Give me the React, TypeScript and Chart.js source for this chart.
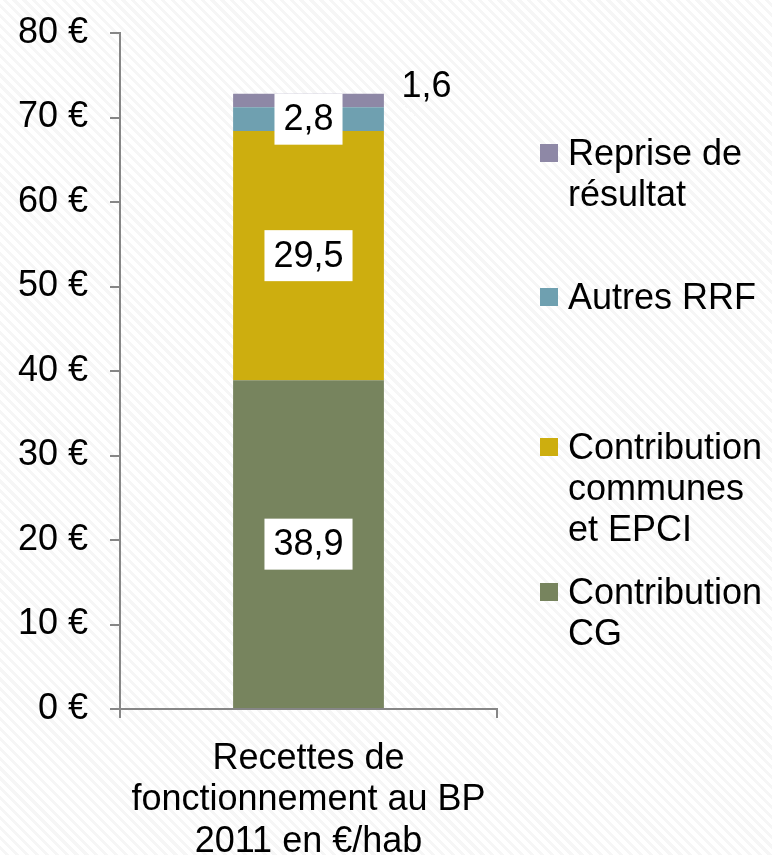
import React, { useEffect, useRef } from "react";
import { Chart, registerables } from "chart.js";

Chart.register(...registerables);

const categories: string[][] = [["Recettes de", "fonctionnement au BP", "2011 en €/hab"]];
const seriesNames: string[][] = [
  ["Contribution", "CG"],
  ["Contribution", "communes", "et EPCI"],
  ["Autres RRF"],
  ["Reprise de", "résultat"],
];
const seriesValues: number[] = [38.9, 29.5, 2.8, 1.6];
const seriesColors: string[] = ["#77845E", "#CDAE0F", "#6FA0B0", "#8E88A6"];
const yTicks: number[] = [0, 10, 20, 30, 40, 50, 60, 70, 80];

const FONT = "'Liberation Sans', Arial, sans-serif";
const FS = 36;

const fmt = (v: number) => v.toFixed(1).replace(".", ",");

const labelPlugin = {
  id: "labelsAndLegend",
  afterDatasetsDraw(chart: any) {
    const ctx = chart.ctx;
    ctx.save();
    ctx.font = `${FS}px ${FONT}`;
    ctx.textBaseline = "middle";
    ctx.textAlign = "center";
    chart.data.datasets.forEach((ds: any, i: number) => {
      const meta = chart.getDatasetMeta(i);
      const bar = meta.data[0];
      if (!bar) return;
      const v = ds.data[0];
      const txt = fmt(v);
      const cy = (bar.y + bar.base) / 2;
      if (i === 3) {
        ctx.fillStyle = "#000";
        ctx.fillText(txt, bar.x + 118, cy - 14);
        return;
      }
      const w = ctx.measureText(txt).width + 18;
      const h = 51;
      ctx.fillStyle = "#fff";
      ctx.fillRect(bar.x - w / 2, cy - h / 2, w, h);
      ctx.fillStyle = "#000";
      ctx.fillText(txt, bar.x, cy + 1);
    });

    // legend
    const area = chart.chartArea;
    const sx = area.right + 43;
    const tx = area.right + 71;
    const order = [3, 2, 1, 0];
    const starts = [153, 297, 447, 592];
    ctx.textAlign = "left";
    order.forEach((idx, k) => {
      const y0 = starts[k];
      ctx.fillStyle = seriesColors[idx];
      ctx.fillRect(sx, y0 - 9, 18, 18);
      ctx.fillStyle = "#000";
      seriesNames[idx].forEach((line, j) => {
        ctx.fillText(line, tx, y0 + 2 + j * 41);
      });
    });
    ctx.restore();
  },
};

export default function App() {
  const ref = useRef<HTMLCanvasElement>(null);
  useEffect(() => {
    if (!ref.current) return;
    const chart = new Chart(ref.current, {
      type: "bar",
      data: {
        labels: categories,
        datasets: seriesValues.map((v, i) => ({
          label: seriesNames[i].join(" "),
          data: [v],
          backgroundColor: seriesColors[i],
          borderWidth: 0,
          barPercentage: 1,
          categoryPercentage: 0.4,
        })),
      },
      options: {
        animation: false,
        responsive: false,
        maintainAspectRatio: false,
        layout: { padding: { top: 33, right: 275, bottom: 0, left: 0 } },
        plugins: { legend: { display: false }, tooltip: { enabled: false } },
        scales: {
          x: {
            stacked: true,
            afterFit: (s: any) => {
              s.height = 146;
            },
            grid: {
              drawOnChartArea: false,
              drawTicks: true,
              tickLength: 9,
              color: "#868686",
              lineWidth: 2,
            },
            border: { color: "#868686", width: 2 },
            ticks: {
              color: "#000",
              padding: 20,
              font: { family: FONT, size: FS, lineHeight: "41.5px" } as any,
              maxRotation: 0,
              autoSkip: false,
            },
          },
          y: {
            stacked: true,
            min: 0,
            max: 80,
            afterFit: (s: any) => {
              s.width = 120;
              s.paddingTop = 0;
              s.paddingBottom = 0;
            },
            afterBuildTicks: (s: any) => {
              s.ticks = yTicks.map((v) => ({ value: v }));
            },
            grid: {
              drawOnChartArea: false,
              drawTicks: true,
              tickLength: 10,
              color: "#868686",
              lineWidth: 2,
            },
            border: { color: "#868686", width: 2 },
            ticks: {
              color: "#000",
              padding: 22,
              font: { family: FONT, size: FS },
              callback: (v: any) => `${v} €`,
            },
          },
        },
      },
      plugins: [labelPlugin],
    });
    return () => chart.destroy();
  }, []);
  return (
    <div
      style={{
        position: "fixed",
        left: 0,
        top: 0,
        width: 772,
        height: 855,
        background:
          "repeating-linear-gradient(45deg, #ffffff 0px, #ffffff 4px, #f6f6f6 4px, #f6f6f6 7px)",
      }}
    >
      <canvas ref={ref} width={772} height={855} style={{ display: "block" }} />
    </div>
  );
}
